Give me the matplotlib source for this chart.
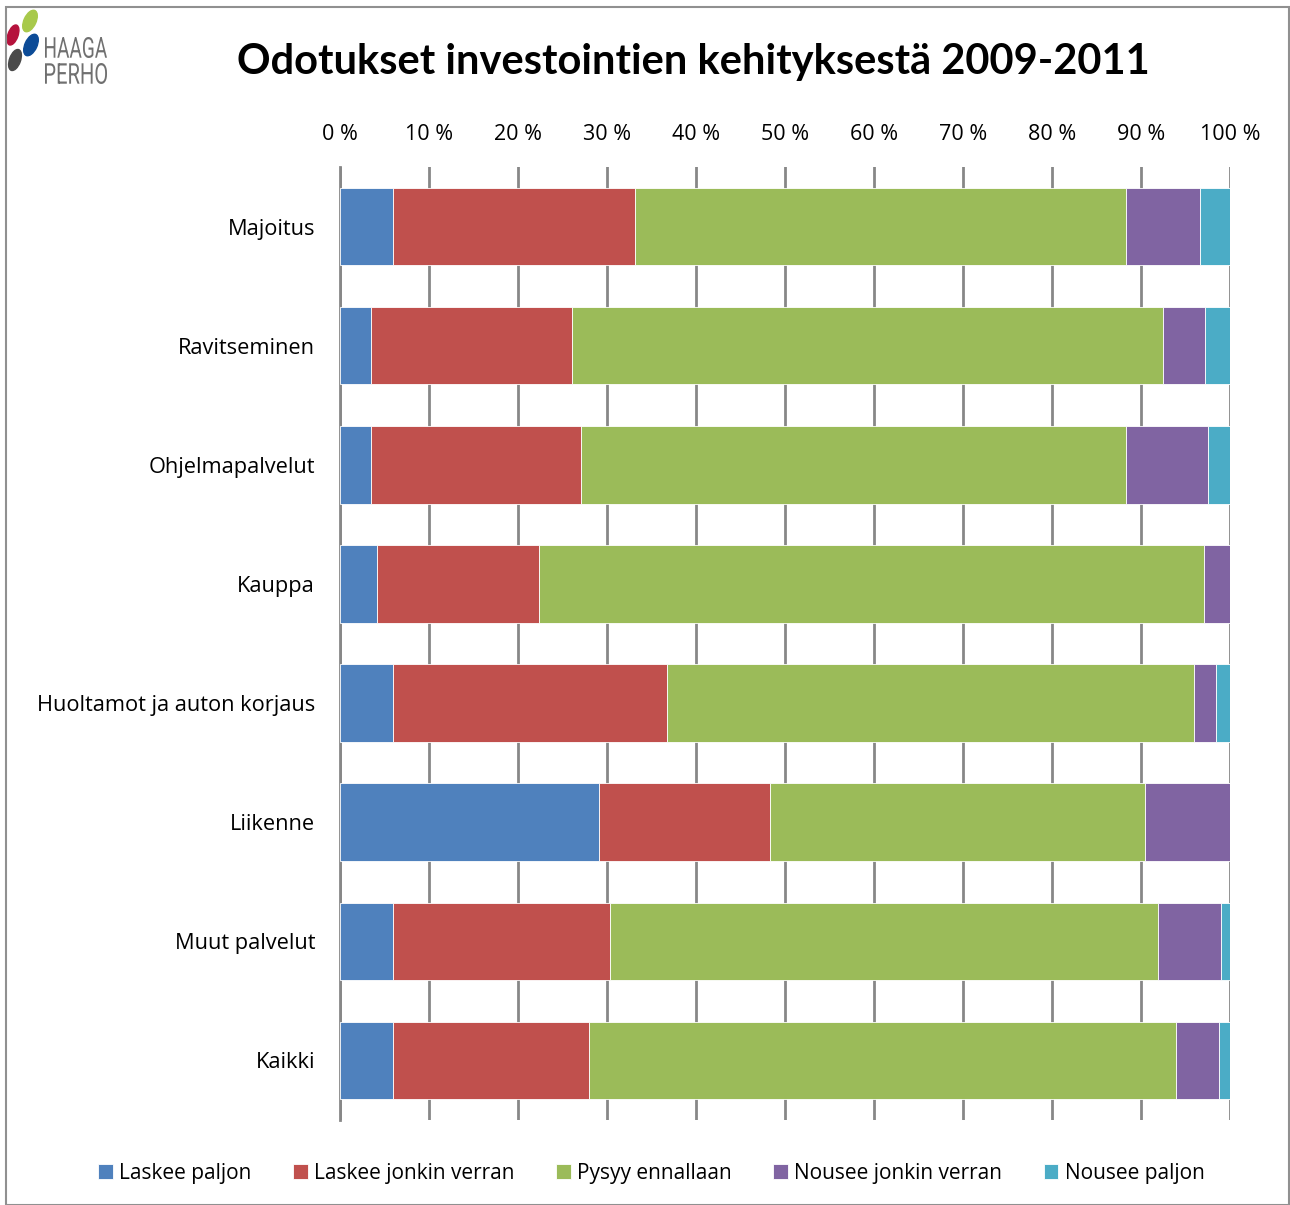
import matplotlib
matplotlib.use("Agg")
from matplotlib import pyplot as plt
from matplotlib.patches import Ellipse, Rectangle, PathPatch
from matplotlib.textpath import TextPath
from matplotlib.font_manager import FontProperties
from matplotlib.transforms import Affine2D
import numpy as np

plt.rcParams['font.family'] = ['Open Sans', 'DejaVu Sans']

categories = ['Majoitus', 'Ravitseminen', 'Ohjelmapalvelut', 'Kauppa',
              'Huoltamot ja auton korjaus', 'Liikenne', 'Muut palvelut', 'Kaikki']
series_names = ['Laskee paljon', 'Laskee jonkin verran', 'Pysyy ennallaan',
                'Nousee jonkin verran', 'Nousee paljon']
laskee_paljon = [5.9, 3.5, 3.5, 4.2, 5.9, 29.1, 5.9, 5.9]
laskee_jonkin = [27.2, 22.6, 23.6, 18.2, 30.8, 19.2, 24.4, 22.1]
pysyy = [55.2, 66.4, 61.2, 74.7, 59.3, 42.1, 61.6, 65.9]
nousee_jonkin = [8.3, 4.7, 9.2, 2.9, 2.4, 9.6, 7.1, 4.9]
nousee_paljon = [3.4, 2.8, 2.5, 0.0, 1.6, 0.0, 1.0, 1.2]
colors = ['#4F81BD', '#C0504D', '#9BBB59', '#8064A2', '#4BACC6']
xticks = np.arange(0, 101, 10)
xtick_labels = ['%d %%' % v for v in xticks]

fig = plt.figure(figsize=(12.9, 12.05), dpi=100)
ax = fig.add_axes([340 / 1290, 1 - 1120 / 1205, 890 / 1290, 953 / 1205])

y = np.arange(len(categories))
left = np.zeros(len(categories))
handles = []
for name, vals, c in zip(series_names,
                         [laskee_paljon, laskee_jonkin, pysyy, nousee_jonkin, nousee_paljon],
                         colors):
    vals = np.array(vals)
    b = ax.barh(y, vals, left=left, height=0.65, color=c, label=name,
                edgecolor='white', linewidth=0.6, zorder=3)
    handles.append(b)
    left += vals

ax.set_xlim(0, 100)
ax.set_ylim(len(categories) - 0.5, -0.5)
ax.set_yticks(y)
ax.set_yticklabels(categories, fontsize=15.7)
ax.set_xticks(xticks)
ax.set_xticklabels(xtick_labels, fontsize=15.5)
ax.xaxis.tick_top()
ax.tick_params(axis='x', length=0, pad=16)
ax.tick_params(axis='y', length=0, pad=18)
ax.grid(axis='x', color='#878787', linewidth=2, linestyle='-', zorder=0)
for s in ['top', 'right', 'bottom']:
    ax.spines[s].set_visible(False)
ax.spines['left'].set_color('#878787')
ax.spines['left'].set_linewidth(2)

fig.text(0.5376, 1 - 62 / 1205, 'Odotukset investointien kehityksestä 2009-2011',
         ha='center', va='center', fontsize=30, fontweight='bold', family=['Lato', 'DejaVu Sans'])

fig.legend(handles=handles, loc='center', bbox_to_anchor=(0.505, 1 - 1173 / 1205),
           ncol=5, frameon=False, fontsize=15, handlelength=0.7, handleheight=0.7,
           handletextpad=0.3, columnspacing=2.0)

# logo
logo = fig.add_axes([0, 1 - 90 / 1205, 110 / 1290, 90 / 1205])
logo.set_xlim(0, 110)
logo.set_ylim(0, 90)
logo.axis('off')
for (cx, cy, w, h, ang, c) in [(30, 21, 12, 23, -25, '#A8C94B'), (13, 35, 10, 21, -20, '#B5123C'),
                               (31, 45, 12, 23, -25, '#0C4B97'), (15, 60, 11, 22, -20, '#4A4A4A')]:
    logo.add_patch(Ellipse((cx, 90 - cy), w, h, angle=ang, color=c))
prop = FontProperties(family='Roboto')
for word, top in [('HAAGA', 37), ('PERHO', 63)]:
    tp = TextPath((0, 0), word, size=10, prop=prop)
    bb = tp.get_extents()
    sx = 62 / bb.width
    sy = 21 / bb.height
    tr = Affine2D().translate(-bb.x0, -bb.y0).scale(sx, sy).translate(45, 90 - top - 21)
    logo.add_patch(PathPatch(tr.transform_path(tp), color='#707070', lw=0))

fig.patches.append(Rectangle((6 / 1290, 0), 1 - 7 / 1290, 1 - 7 / 1205, transform=fig.transFigure,
                             fill=False, edgecolor='#909090', linewidth=1.5))

fig.savefig('out.png', dpi=100)
